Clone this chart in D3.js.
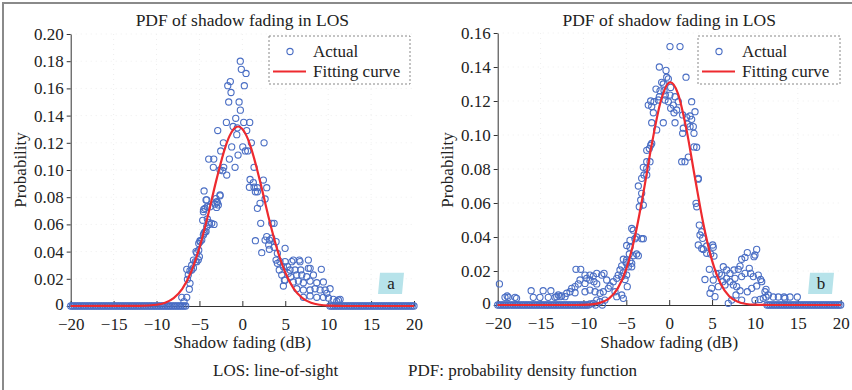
<!DOCTYPE html>
<html><head><meta charset="utf-8">
<script src="https://cdn.jsdelivr.net/npm/d3@7"></script>
<style>
body{margin:0;background:#fff}
svg text{font-family:"Liberation Serif","DejaVu Serif","Times New Roman",serif;fill:#222}
</style>
</head><body>
<svg id="c" width="852" height="390"></svg>
<script>
// ---------- data ----------
const titleText = "PDF of shadow fading in LOS";
const xLabel = "Shadow fading (dB)";
const yLabel = "Probability";
const legendLabels = ["Actual", "Fitting curve"];
const captions = ["LOS: line-of-sight", "PDF: probability density function"];
const panelTags = ["a", "b"];

const xTicks = [-20, -15, -10, -5, 0, 5, 10, 15, 20];
const xTickLabels = ["\u221220", "\u221215", "\u221210", "\u22125", "0", "5", "10", "15", "20"];
const yTicksA = [0, 0.02, 0.04, 0.06, 0.08, 0.10, 0.12, 0.14, 0.16, 0.18, 0.20];
const yTickLabelsA = ["0", "0.02", "0.04", "0.06", "0.08", "0.10", "0.12", "0.14", "0.16", "0.18", "0.20"];
const yTicksB = [0, 0.02, 0.04, 0.06, 0.08, 0.10, 0.12, 0.14, 0.16];
const yTickLabelsB = ["0", "0.02", "0.04", "0.06", "0.08", "0.10", "0.12", "0.14", "0.16"];

// zero-valued bins
const zerosA = [-20,-19.8,-19.6,-19.4,-19.2,-19,-18.8,-18.6,-18.4,-18.2,-18,-17.8,-17.6,-17.4,-17.2,-17,-16.8,-16.6,-16.4,-16.2,
  -16,-15.8,-15.6,-15.4,-15.2,-15,-14.8,-14.6,-14.4,-14.2,-14,-13.8,-13.6,-13.4,-13.2,-13,-12.8,-12.6,-12.4,-12.2,
  -12,-11.8,-11.6,-11.4,-11.2,-11,-10.8,-10.6,-10.4,-10.2,-10,-9.8,-9.6,-9.4,-9.2,-9,-8.8,-8.6,-8.4,-8.2,
  -8,-7.8,-7.6,-7.4,-7.2,-7,-6.8,-6.6,
  10.2,10.4,10.6,10.8,11,11.2,11.4,11.6,11.8,12,12.2,12.4,12.6,12.8,13,13.2,13.4,13.6,13.8,14,14.2,14.4,14.6,14.8,
  15,15.2,15.4,15.6,15.8,16,16.2,16.4,16.6,16.8,17,17.2,17.4,17.6,17.8,18,18.2,18.4,18.6,18.8,19,19.2,19.4,19.6,19.8,20];
const zerosB = [-20,-19.8,-19.6,-19.4,-19.2,-19,-18.8,-18.6,-18.4,-18.2,-18,-17.8,-17.6,-17.4,-17.2,-17,-16.8,-16.6,-16.4,-16.2,
  -16,-15.8,-15.6,-15.4,-15.2,-15,-14.8,-14.6,-14.4,-14.2,-14,-13.8,-13.6,-13.4,-13.2,-13,-12.8,-12.6,-12.4,-12.2,
  -12,-11.8,-11.6,-11.4,-11.2,-11,-10.8,-10.6,-10.4,-10.2,-10,-9.8,-9.6,-9.4,-8.6,-7.8,
  11.4,11.6,11.8,12,12.2,12.4,12.6,12.8,13,13.2,13.4,13.6,13.8,14,14.2,14.4,14.6,14.8,
  15,15.2,15.4,15.6,15.8,16,16.2,16.4,16.6,16.8,17,17.2,17.4,17.6,17.8,18,18.2,18.4,18.6,18.8,19,19.2,19.4,19.6,19.8,20];

// measured (non-zero) points [dB, probability]
const actualA = [
 [-0.24,0.180],[-0.12,0.174],[0.43,0.171],[-1.4,0.165],[-1.7,0.162],[0.23,0.162],[-1.32,0.157],[-1.59,0.150],[-0.38,0.150],
 [-0.23,0.144],[-0.77,0.138],[-1.86,0.135],[0.16,0.135],[0.86,0.135],[-2.87,0.129],[-1.08,0.132],[-0.58,0.131],[0.51,0.129],
 [-0.65,0.126],[2.53,0.120],[-2.21,0.120],[1.05,0.120],[-1.24,0.117],[0.05,0.117],[-2.52,0.114],[0.35,0.114],[0.63,0.114],
 [-0.5,0.111],[-3.92,0.108],[-3.33,0.108],[-1.51,0.108],[1.36,0.102],[-3.38,0.102],[-2.17,0.102],[-0.85,0.102],[-2.6,0.100],
 [-2.28,0.0995],[-1.82,0.0963],[0.9,0.093],[1.28,0.0907],[1.75,0.087],[2.45,0.0926],[2.84,0.087],[-4.46,0.0846],
 [0.82,0.0873],[1.36,0.0873],[1.75,0.084],[1.52,0.084],[2.65,0.0787],[2.06,0.0755],[1.75,0.0718],[2.14,0.0608],[3.43,0.0608],
 [3.7,0.0608],[2.84,0.051],[3.15,0.0485],[2.65,0.0485],[3.43,0.0498],[1.52,0.048],[3.07,0.0449],[3.93,0.0473],[3.7,0.0432],
 [2.26,0.0392],[3.15,0.0417],[4.98,0.0424],[4.08,0.0387],[3.93,0.0338],[4.08,0.0314],[4.39,0.0326],[4.98,0.0326],[4.78,0.0289],
 [5.94,0.0338],[6.64,0.0338],[7.69,0.0338],[5.76,0.0326],[6.72,0.0326],[9.2,0.027],[7.69,0.0277],
 [4.3,0.0265],[5.25,0.029],[5.56,0.0265],[6.14,0.0265],[6.8,0.0265],[7.9,0.0277],
 [4.59,0.0228],[5.36,0.024],[5.64,0.0215],[6.34,0.0228],[6.92,0.0228],[7.5,0.0215],[8.28,0.0228],
 [4.98,0.019],[5.94,0.0177],[6.53,0.0183],[7.11,0.0171],[7.89,0.0183],[8.67,0.0171],[9.44,0.0177],[4.78,0.0147],[4.9,0.019],
 [6.34,0.0127],[7.11,0.0118],[7.89,0.0118],[8.47,0.0127],[9.06,0.0118],[9.64,0.0118],[10.22,0.0127],[9.84,0.0093],
 [7.11,0.0064],[7.89,0.0074],[8.67,0.0064],[9.44,0.0064],[10.03,0.0059],[10.6,0.0049],[11.19,0.0044],[11.0,0.0034],[11.39,0.0049],
 [-4.54,0.0693],[-4.5,0.071],[-4.23,0.078],[-4.08,0.073],[-3.07,0.079],[-2.91,0.076],[-2.6,0.081],[-3.19,0.075],[-3.0,0.0725],
 [-4.62,0.063],[-4.08,0.064],[-3.85,0.060],[-3.3,0.060],[-4.23,0.0547],[-4.46,0.0535],[-4.93,0.048],[-5.08,0.046],[-5.08,0.041],
 [-5.31,0.039],[-5.7,0.0338],[-5.48,0.0326],[-5.13,0.034],[-5.9,0.030],[-5.7,0.028],[-6.1,0.026],[-6.48,0.027],[-6.3,0.0228],
 [-6.4,0.0196],[-6.1,0.0167],[-6.18,0.0123],[-7.06,0.0064],[-6.8,0.0032],[-6.48,0.0064],
 [-5.9,0.0265],[-5.31,0.0326],[-5.01,0.0363],[-5.4,0.040],[-4.93,0.0473],[-4.73,0.0485],[-4.54,0.0522],[-4.35,0.0546],
 [-4.15,0.0583],[-3.85,0.0613],[-3.57,0.0608],[-4.35,0.0718],[-4.15,0.078],[-3.76,0.073],[-2.98,0.0767],[-2.8,0.0743],[-2.6,0.0816]
];
const actualB = [
 [0.09,0.152],[1.26,0.152],[-1.15,0.140],[-0.37,0.138],[-0.29,0.134],[-0.1,0.133],[1.96,0.134],[-0.88,0.131],[-0.69,0.130],
 [-1.54,0.127],[-1.07,0.126],[-0.6,0.126],[0.17,0.128],[-1.15,0.1225],[-0.45,0.1235],[0.09,0.1235],[0.68,0.1225],
 [-2.16,0.120],[-1.77,0.1196],[-1.27,0.1206],[-0.49,0.1206],[-0.1,0.1196],[1.06,0.1196],[2.62,0.1196],
 [-2.44,0.1176],[-2.04,0.1167],[0.48,0.1176],[0.17,0.1157],[0.87,0.1147],[3.01,0.1137],
 [-1.85,0.1131],[0.56,0.1131],[1.57,0.1118],[2.04,0.1104],[2.43,0.1112],[2.62,0.1092],
 [-2.04,0.1072],[-0.69,0.1072],[0.68,0.1072],[2.11,0.1065],[2.43,0.1049],[2.81,0.1049],
 [-1.46,0.103],[1.57,0.101],[2.89,0.101],[1.64,0.104],
 [2.89,0.093],[3.2,0.0928],[-2.16,0.094],[-2.32,0.092],[-2.62,0.091],[-2.04,0.095],[1.46,0.0843],[1.84,0.0843],[2.23,0.087],
 [-3.02,0.081],[-2.62,0.0843],[3.39,0.0745],
 [-2.24,0.0843],[-2.62,0.0804],[-2.94,0.0765],[-3.21,0.0745],[-2.62,0.0765],[-3.6,0.070],[-3.21,0.0657],[-3.32,0.0618],
 [-3.49,0.0578],[-3.02,0.0588],
 [-4.37,0.045],[-4.19,0.044],[-3.8,0.040],[-3.21,0.039],[-4.0,0.039],[-4.57,0.038],[-3.02,0.039],
 [-4.96,0.035],[-4.57,0.034],[-3.8,0.030],[-4.19,0.029],[-3.6,0.029],[-4.65,0.030],
 [-5.35,0.0269],[-4.96,0.0265],[-4.57,0.026],[-4.37,0.0245],[-5.03,0.0249],[-5.54,0.023],[-4.76,0.0225],[-4.37,0.0225],
 [-5.74,0.0206],[-5.35,0.019],[-5.94,0.0176],[-6.12,0.0157],[-5.54,0.0167],[-4.96,0.0176],[-5.15,0.015],[-4.89,0.0108],
 [-7.1,0.0098],[-6.9,0.0112],[-7.29,0.0147],[-7.68,0.0078],[-8.07,0.0069],[-8.65,0.0078],[-9.24,0.0088],[-9.82,0.0078],
 [-6.52,0.0137],[-6.32,0.0078],[-6.12,0.0049],[-5.54,0.0059],[-5.35,0.0039],[-7.49,0.0029],[-8.07,0.0019],[-8.45,0.0029],
 [-8.85,0.001],[-9.24,0.0006],
 [-10.87,0.021],[-10.32,0.021],[-9.82,0.0176],[-9.24,0.0176],[-9.62,0.0157],[-8.85,0.017],[-8.45,0.0186],[-7.87,0.0176],
 [-7.6,0.0186],[-9.24,0.0147],[-8.77,0.0137],[-9.82,0.0127],[-8.45,0.0124],[-10.6,0.0124],[-10.4,0.0147],[-10.98,0.0108],
 [-11.37,0.0098],[-11.57,0.0078],[-10.98,0.0072],[-11.95,0.0069],[-12.15,0.0049],[-12.73,0.0049],[-13.12,0.0049],
 [-19.8,0.0124],[-18.9,0.0053],[-17.8,0.0039],[-16.1,0.0084],[-14.7,0.0084],[-13.8,0.0084],
 [-19.15,0.0045],[-18.76,0.0045],[-17.98,0.0045],[-15.85,0.0045],[-15.07,0.0045],[-14.1,0.0045],[-13.32,0.0045],
 [-12.93,0.0059],[-12.54,0.0053],
 [3.39,0.074],[3.13,0.0598],[3.21,0.0578],[3.51,0.047],[3.79,0.0431],[3.9,0.0392],[3.59,0.0412],
 [3.39,0.0353],[3.79,0.0333],[4.37,0.0347],[5.07,0.0353],[5.14,0.034],[3.98,0.0327],[4.37,0.0304],[4.84,0.030],[5.22,0.0288],
 [4.68,0.021],[4.17,0.015],[5.14,0.0147],[5.46,0.0186],[6.31,0.0225],[6.7,0.0206],[6.12,0.0176],[7.09,0.0186],[7.56,0.0206],
 [8.06,0.021],[8.45,0.0269],[8.84,0.028],[9.11,0.0308],[10.0,0.0294],[10.2,0.0327],[9.89,0.0284],[8.26,0.0229],[9.34,0.0216],
 [9.5,0.0186],[10.39,0.0176],[10.67,0.015],[9.81,0.0167],[8.84,0.0186],[8.45,0.0167],[7.67,0.0157],[7.09,0.0137],[6.51,0.0118],
 [5.73,0.0108],[4.96,0.0098],[4.76,0.0069],[5.34,0.0049],[6.89,0.001],[7.29,0.0029],[7.79,0.0059],[8.26,0.0084],[9.11,0.0078],
 [9.62,0.0098],[10.2,0.0112],[10.79,0.0137],[11.17,0.0078],[11.56,0.0059],[10.97,0.0039],[10.59,0.0033],[10.0,0.0029],
 [8.45,0.0029],[7.87,0.0108],[7.48,0.0118],[6.24,0.0137],[6.7,0.0157],[5.84,0.0186],
 [12.14,0.0047],[12.73,0.0047],[13.39,0.0047],[14.09,0.0047],[14.94,0.0047],[11.29,0.0047],[11.29,0.0092],[13.5,0.004]
];

// fitting curves
const fitXA = [-20,-12,-10,-9,-8,-7,-6,-5,-4,-3,-2,-1.5,-1,-0.5,0,0.5,1,2,3,4,5,6,7,8,9,10,12,20];
const fitYA = [0,0.0001,0.0009,0.0024,0.0058,0.0126,0.0246,0.0429,0.0668,0.0933,0.1165,0.1249,0.1302,0.132,0.1302,0.1249,0.1165,0.0933,0.0668,0.0429,0.0246,0.0126,0.0058,0.0024,0.0009,0.0003,0,0];
const fitXB = [-20,-12,-10,-9,-8,-7,-6,-5,-4,-3,-2,-1,0,0.15,1,2,3,4,5,6,7,8,9,10,12,20];
const fitYB = [0,0,0.0001,0.0004,0.0014,0.0039,0.0098,0.0213,0.0402,0.0663,0.0954,0.1196,0.1308,0.131,0.1247,0.1036,0.075,0.0474,0.0261,0.0125,0.0052,0.0019,0.0006,0.0002,0,0];

// ---------- drawing ----------
const svg = d3.select("#c");
const BLUE = "#4a6ec4", RED = "#ee2a2f";

svg.append("rect").attr("x", 3).attr("y", 3).attr("width", 900).attr("height", 500)
  .attr("fill", "none").attr("stroke", "#8a8a8a").attr("stroke-width", 2);

const panels = [
  {x0: 70.7, x1: 414, y0: 306, y1: 34, yMax: 0.20, yt: yTicksA, yl: yTickLabelsA, pts: actualA, zeros: zerosA,
   fx: fitXA, fy: fitYA, tag: panelTags[0], tagX: 378, lx: 269, lw: 141, ylx: 20},
  {x0: 497.7, x1: 840.7, y0: 305, y1: 33, yMax: 0.16, yt: yTicksB, yl: yTickLabelsB, pts: actualB, zeros: zerosB,
   fx: fitXB, fy: fitYB, tag: panelTags[1], tagX: 808, lx: 698, lw: 142, ylx: 447}
];

panels.forEach(p => {
  const x = d3.scaleLinear().domain([-20, 20]).range([p.x0, p.x1]);
  const y = d3.scaleLinear().domain([0, p.yMax]).range([p.y0, p.y1]);
  const g = svg.append("g");

  // faint grid
  g.append("g").selectAll("line").data(xTicks.slice(1, -1)).join("line")
    .attr("x1", d => x(d)).attr("x2", d => x(d)).attr("y1", p.y1).attr("y2", p.y0)
    .attr("stroke", "#eeeeee").attr("stroke-dasharray", "1,4");
  g.append("g").selectAll("line").data(p.yt.slice(1)).join("line")
    .attr("x1", p.x0).attr("x2", p.x1).attr("y1", d => y(d)).attr("y2", d => y(d))
    .attr("stroke", "#eeeeee").attr("stroke-dasharray", "1,4");

  // axes
  const ax = g.append("g").attr("transform", `translate(0,${p.y0})`)
    .call(d3.axisBottom(x).tickValues(xTicks).tickFormat((d, i) => xTickLabels[i]).tickSizeInner(-5).tickSizeOuter(0).tickPadding(12));
  const ay = g.append("g").attr("transform", `translate(${p.x0},0)`)
    .call(d3.axisLeft(y).tickValues(p.yt).tickFormat((d, i) => p.yl[i]).tickSizeInner(4).tickSizeOuter(0).tickPadding(3));
  [ax, ay].forEach(a => {
    a.attr("font-family", null);
    a.selectAll("path,line").attr("stroke", "#333").attr("stroke-width", 1);
    a.selectAll("text").attr("font-size", 17).attr("fill", "#222");
  });
  // lift the y-axis "0" a touch so it clears the x labels
  ay.selectAll(".tick").filter(d => d === 0).select("text").attr("dy", "0.2em");

  // points
  const allPts = p.zeros.map(v => [v, 0]).concat(p.pts);
  g.append("g").selectAll("circle").data(allPts).join("circle")
    .attr("cx", d => x(d[0])).attr("cy", d => y(d[1])).attr("r", 3.1)
    .attr("fill", "none").attr("stroke", BLUE).attr("stroke-width", 1.1);

  // fit curve
  const line = d3.line().x(d => x(d[0])).y(d => y(d[1])).curve(d3.curveMonotoneX);
  g.append("path").datum(p.fx.map((v, i) => [v, p.fy[i]])).attr("d", line)
    .attr("fill", "none").attr("stroke", RED).attr("stroke-width", 2.2);

  // title and axis titles
  const cx = (p.x0 + p.x1) / 2;
  g.append("text").attr("x", cx).attr("y", 26).attr("text-anchor", "middle").attr("font-size", 17.5).text(titleText);
  g.append("text").attr("x", cx).attr("y", 348).attr("text-anchor", "middle").attr("font-size", 17).text(xLabel);
  g.append("text").attr("transform", `translate(${p.ylx + 6},170) rotate(-90)`).attr("text-anchor", "middle")
    .attr("font-size", 17).text(yLabel);

  // legend
  const lg = g.append("g").attr("transform", `translate(${p.lx},36)`);
  lg.append("rect").attr("width", p.lw).attr("height", 48).attr("fill", "#fff")
    .attr("stroke", "#888").attr("stroke-dasharray", "2,2").attr("stroke-width", 1);
  lg.append("circle").attr("cx", 21).attr("cy", 15.5).attr("r", 3.1).attr("fill", "none").attr("stroke", BLUE).attr("stroke-width", 1.1);
  lg.append("line").attr("x1", 4).attr("x2", 37).attr("y1", 35.5).attr("y2", 35.5).attr("stroke", RED).attr("stroke-width", 2.2);
  lg.append("text").attr("x", 44).attr("y", 21).attr("font-size", 17).text(legendLabels[0]);
  lg.append("text").attr("x", 44).attr("y", 41).attr("font-size", 17).text(legendLabels[1]);

  // panel tag
  const tx = p.tagX, ty = 272.7;
  g.append("path").attr("d", `M${tx + 2},${ty} L${tx + 26},${ty} L${tx + 24},${ty + 21.3} L${tx},${ty + 21.3} Z`)
    .attr("fill", "#b7e3ea");
  g.append("text").attr("x", tx + 13).attr("y", ty + 16).attr("text-anchor", "middle").attr("font-size", 17).text(p.tag);
});

svg.append("text").attr("x", 213).attr("y", 376).attr("font-size", 17).text(captions[0]);
svg.append("text").attr("x", 408).attr("y", 376).attr("font-size", 17).text(captions[1]);
</script>
</body></html>
